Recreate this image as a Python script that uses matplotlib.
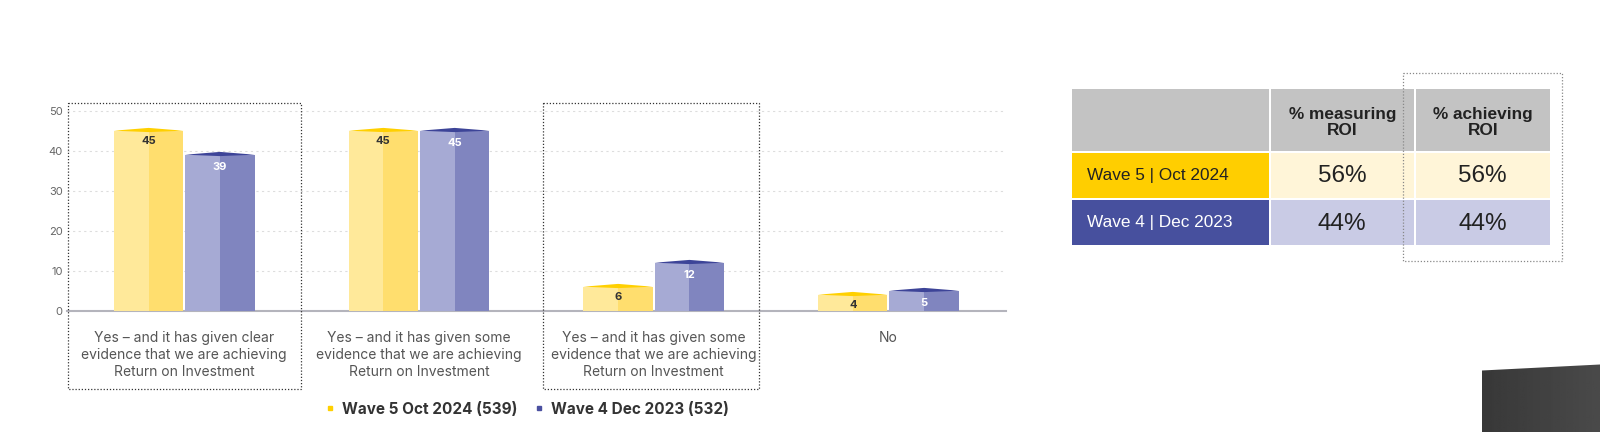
import matplotlib.pyplot as plt
from matplotlib.patches import Rectangle, Polygon
from matplotlib.lines import Line2D
import numpy as np

plt.rcParams['font.family'] = ['Inter', 'DejaVu Sans']

categories = [
    "Yes \u2013 and it has given clear\nevidence that we are achieving\nReturn on Investment",
    "Yes \u2013 and it has given some\nevidence that we are achieving\nReturn on Investment",
    "Yes \u2013 and it has given some\nevidence that we are achieving\nReturn on Investment",
    "No",
]
wave5 = [45, 45, 6, 4]
wave4 = [39, 45, 12, 5]
series_names = ["Wave 5 Oct 2024 (539)", "Wave 4 Dec 2023 (532)"]
yticks = [0, 10, 20, 30, 40, 50]

table_cols = ["% measuring\nROI", "% achieving\nROI"]
table_rows = ["Wave 5 | Oct 2024", "Wave 4 | Dec 2023"]
measuring = ["56%", "44%"]
achieving = ["56%", "44%"]

W, H = 1600, 432
fig = plt.figure(figsize=(16, 4.32), dpi=100)

# chart axes, placed by pixel (y=0 at 310.7 px, 4 px per unit)
ax = fig.add_axes([66.9 / W, (H - 310.7) / H, 938.9 / W, 208 / H])
ax.set_xlim(-0.5, 3.5)
ax.set_ylim(0, 52)

x = np.arange(len(categories))
bw = 0.296
gap = 0.004
styles = [
    (wave5, -1, "#FFE99A", "#FFDE6E", "#FFD000", "#333333", 2.45),
    (wave4, 1, "#A6AAD4", "#8085BF", "#3D4498", "white", 3.0),
]
for vals, side, light, dark, cap, tcol, drop in styles:
    left = x + (gap if side > 0 else -bw - gap)
    ax.bar(left, vals, width=bw / 2, align='edge', color=light, zorder=3)
    ax.bar(left + bw / 2, vals, width=bw / 2, align='edge', color=dark, zorder=3)
    for xi, v in zip(left, vals):
        ax.fill([xi, xi + bw / 2, xi + bw, xi + bw / 2],
                [v, v + 0.7, v, v - 0.35], color=cap, zorder=4, lw=0)
        ax.text(xi + bw / 2, v - drop, str(v), ha='center', va='center',
                fontsize=8, fontweight='bold', color=tcol, zorder=5)

ax.set_yticks(yticks)
ax.set_xticks([])
ax.tick_params(axis='y', length=0, labelsize=8, labelcolor="#666666", pad=3)
for s in ['top', 'right', 'left']:
    ax.spines[s].set_visible(False)
ax.spines['bottom'].set_color("#B4B4BC")
ax.spines['bottom'].set_linewidth(1.5)
ax.yaxis.grid(True, linestyle=(0, (2, 3)), color="#DDDDDD", lw=0.8, zorder=0)
ax.set_axisbelow(True)

for xi, lab in zip(x, categories):
    ax.text(xi, -0.097, lab, transform=ax.get_xaxis_transform(), ha='center',
            va='top', fontsize=10, color="#555555", linespacing=1.3)

handles = [Line2D([], [], marker='s', ls='', color=c, markersize=3.5)
           for c in ["#FFD000", "#4A50A0"]]
fig.legend(handles, series_names, loc='center', bbox_to_anchor=(527 / W, 1 - 409 / H),
           ncol=2, frameon=False, handlelength=0.6, handletextpad=0.5,
           columnspacing=1.1, prop={'weight': 'bold', 'size': 11},
           labelcolor="#333333")

# overlay in pixel coordinates for boxes and table
ov = fig.add_axes([0, 0, 1, 1], zorder=5)
ov.set_xlim(0, W)
ov.set_ylim(H, 0)
ov.axis('off')
ov.patch.set_alpha(0)

for x0, x1 in [(67.7, 301), (542.7, 759.3)]:
    ov.add_patch(Rectangle((x0, 103), x1 - x0, 286, fill=False, ec="#333333",
                           lw=0.9, ls=(0, (1, 1.5))))

col_x = [(1072, 1269), (1271, 1413.5), (1415.5, 1550)]
row_y = [(89, 151), (153, 198), (200, 245)]
header_bg = "#C3C3C3"
label_bg = ["#FFCE00", "#47509E"]
label_fg = ["#222222", "white"]
cell_bg = ["#FFF5D8", "#C9CBE5"]
tfont = ['Liberation Sans', 'DejaVu Sans']

for (cx0, cx1) in col_x:
    ov.add_patch(Rectangle((cx0, row_y[0][0]), cx1 - cx0, row_y[0][1] - row_y[0][0],
                           color=header_bg, lw=0))
for j, name in enumerate(table_cols):
    cx0, cx1 = col_x[j + 1]
    ov.text((cx0 + cx1) / 2, (row_y[0][0] + row_y[0][1]) / 2 + 2.5, name, ha='center',
            va='center', fontsize=12.4, fontweight='bold', color="#222222",
            linespacing=1.15, family=tfont)
for i, rname in enumerate(table_rows):
    ry0, ry1 = row_y[i + 1]
    cx0, cx1 = col_x[0]
    ov.add_patch(Rectangle((cx0, ry0), cx1 - cx0, ry1 - ry0, color=label_bg[i], lw=0))
    ov.text(cx0 + 15, (ry0 + ry1) / 2, rname, ha='left', va='center', fontsize=12.4,
            color=label_fg[i], family=tfont)
    for j, val in enumerate([measuring[i], achieving[i]]):
        cx0, cx1 = col_x[j + 1]
        ov.add_patch(Rectangle((cx0, ry0), cx1 - cx0, ry1 - ry0, color=cell_bg[i], lw=0))
        ov.text((cx0 + cx1) / 2, (ry0 + ry1) / 2 + 1, val, ha='center', va='center',
                fontsize=17.5, color="#222222", family=tfont)

ov.add_patch(Rectangle((1403, 73), 159, 188, fill=False, ec="#888888",
                       lw=0.9, ls=(0, (1, 1.5))))

# dark slanted block, bottom right
shape = Polygon([(1482, 370.5), (1600, 364.5), (1600, 432), (1482, 432)],
                closed=True, fc="none", ec="none")
ov.add_patch(shape)
grad = np.linspace(0.22, 0.29, 64)[None, :].repeat(2, axis=0)
img = ov.imshow(grad, cmap='gray', vmin=0, vmax=1, extent=(1482, 1600, 432, 364),
                aspect='auto', zorder=2)
img.set_clip_path(shape)
ov.set_xlim(0, W)
ov.set_ylim(H, 0)

fig.savefig("out.png", dpi=100)
